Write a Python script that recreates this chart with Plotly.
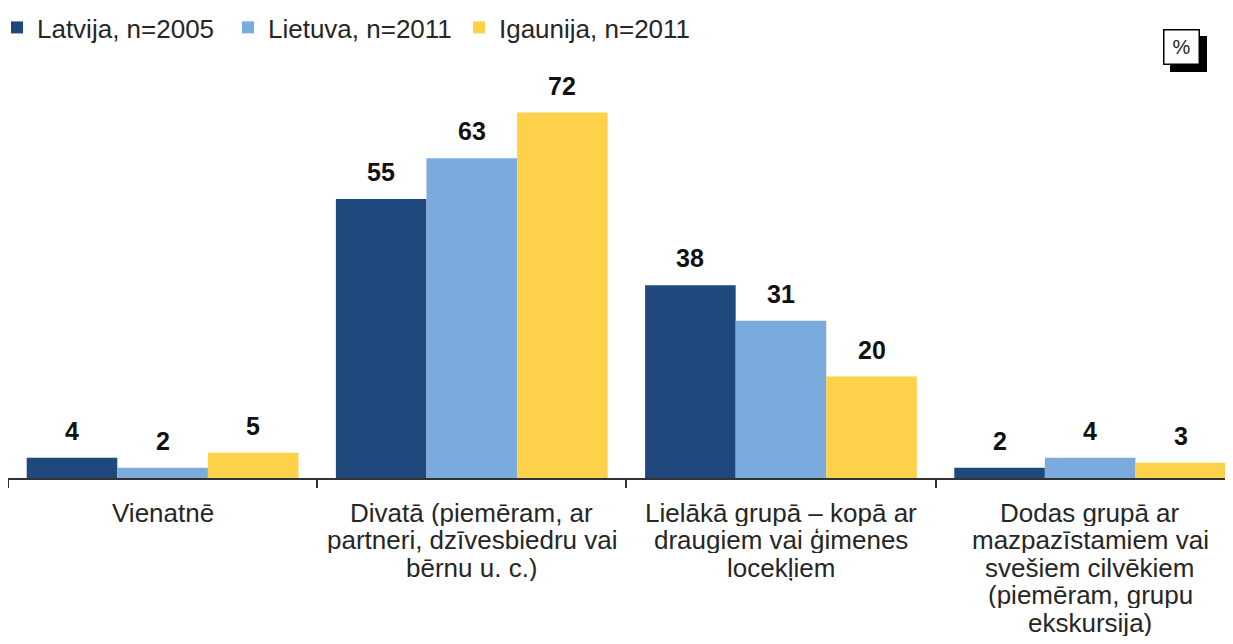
import plotly.graph_objects as go

# ---- data ----
categories = [
    ["Vienatnē"],
    ["Divatā (piemēram, ar", "partneri, dzīvesbiedru vai", "bērnu u. c.)"],
    ["Lielākā grupā – kopā ar", "draugiem vai ģimenes", "locekļiem"],
    ["Dodas grupā ar", "mazpazīstamiem vai", "svešiem cilvēkiem", "(piemēram, grupu", "ekskursija)"],
]
series_names = ["Latvija, n=2005", "Lietuva, n=2011", "Igaunija, n=2011"]
latvija = [4, 55, 38, 2]
lietuva = [2, 63, 31, 4]
igaunija = [5, 72, 20, 3]
unit_label = "%"

# ---- style ----
colors = ["#1F497D", "#7BAADC", "#FDD14A"]
FONT = "Liberation Sans, Arial, sans-serif"
bar_w = 0.293
offsets = [-0.4395, -0.1465, 0.1465]
xpos = list(range(len(categories)))

fig = go.Figure()
annotations = []
for name, vals, col, off in zip(series_names, [latvija, lietuva, igaunija], colors, offsets):
    fig.add_trace(go.Bar(
        x=xpos, y=vals, name=name, width=bar_w, offset=off,
        marker=dict(color=col, line=dict(width=0)),
        hoverinfo="y+name",
    ))
    for xi, v in zip(xpos, vals):
        annotations.append(dict(
            x=xi + off + bar_w / 2, y=v, xref="x", yref="y",
            text=f"<b>{v}</b>", showarrow=False, xanchor="center",
            yanchor="bottom", yshift=12, borderpad=0,
            font=dict(family=FONT, size=25, color="#111111"),
        ))

# category labels, one annotation per line for tight line spacing
for xi, lines in zip(xpos, categories):
    for k, line in enumerate(lines):
        annotations.append(dict(
            x=xi, y=0, xref="x", yref="paper", text=line, showarrow=False,
            xanchor="center", yanchor="middle", height=27,
            yshift=-34 - 27.5 * k, borderpad=0,
            font=dict(family=FONT, size=26, color="#262626"),
        ))

# "%" box with drop shadow
annotations.append(dict(
    x=0.9637, y=1.0443, xref="paper", yref="paper", text=" ", showarrow=False,
    xanchor="center", yanchor="middle",
    width=34, height=33, bgcolor="#000000", bordercolor="#000000", borderwidth=1.5,
    borderpad=0, font=dict(family=FONT, size=20, color="#000000"),
))
annotations.append(dict(
    x=0.958, y=1.0616, xref="paper", yref="paper", text=unit_label, showarrow=False,
    xanchor="center", yanchor="middle",
    width=34, height=33, bgcolor="#FFFFFF", bordercolor="#000000", borderwidth=1.5,
    borderpad=0, font=dict(family=FONT, size=20, color="#222222"),
))

fig.update_layout(
    width=1225, height=636,
    margin=dict(l=0, r=0, t=64, b=166, autoexpand=False),
    paper_bgcolor="white", plot_bgcolor="white",
    barmode="overlay",
    showlegend=True,
    legend=dict(
        orientation="h", x=-0.009, xanchor="left", y=1.1675, yanchor="top",
        font=dict(family=FONT, size=26, color="#262626"),
        itemwidth=30, entrywidth=186, entrywidthmode="pixels", traceorder="normal",
        bgcolor="rgba(0,0,0,0)",
    ),
    xaxis=dict(
        range=[-0.5, 3.462], showgrid=False, zeroline=False,
        tickmode="array", tickvals=[-0.5, 0.5, 1.5, 2.5, 3.5],
        ticks="outside", ticklen=8, tickwidth=1.5, tickcolor="#333333",
        showticklabels=False,
        showline=True, linecolor="#333333", linewidth=1.5,
    ),
    yaxis=dict(range=[0, 80], visible=False),
    annotations=annotations,
)

fig.write_html("out.html")
